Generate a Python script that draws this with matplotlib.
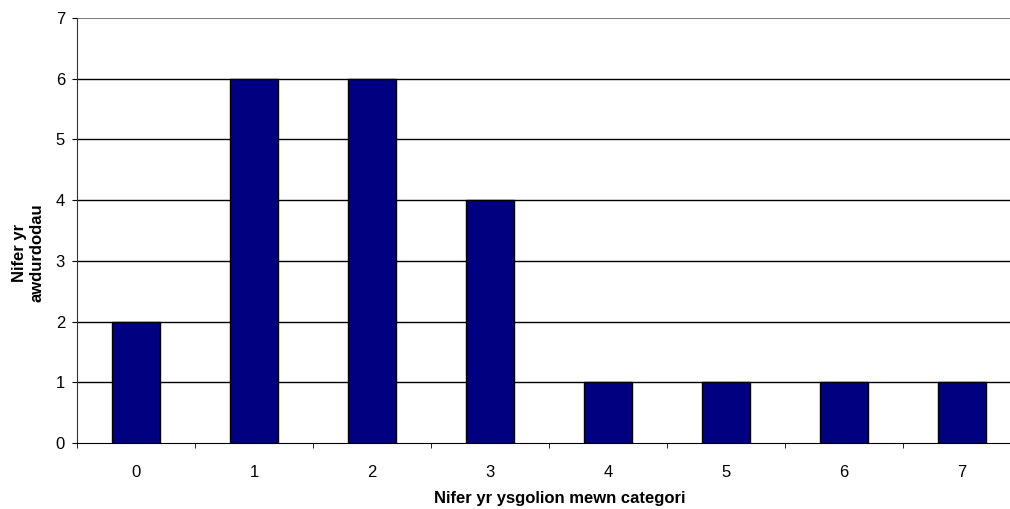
import matplotlib
matplotlib.use('Agg')
import matplotlib.pyplot as plt
import numpy as np

plt.rcParams['font.family'] = ['Liberation Sans', 'DejaVu Sans']

categories = ['0', '1', '2', '3', '4', '5', '6', '7']
counts = [2, 6, 6, 4, 1, 1, 1, 1]

W, H = 1010, 509
fig = plt.figure(figsize=(W / 100, H / 100), dpi=100)
# plot area runs past the right edge of the picture, like the original
ax = fig.add_axes([77 / W, 1 - 443 / H, 944 / W, 425 / H])

x = np.arange(len(categories))
ax.bar(x, counts, width=0.4, color='#000080', edgecolor='black', linewidth=1, zorder=3)

ax.set_xlim(-0.5, len(categories) - 0.5)
ax.set_ylim(0, 7)
ax.set_yticks(range(0, 8))

for v in range(1, 7):
    ax.axhline(v, color='black', linewidth=1, zorder=1)
ax.axhline(7, color='#808080', linewidth=1.5, zorder=1)

ax.set_xticks(x)
ax.set_xticklabels(categories, fontsize=12)
ax.tick_params(axis='x', length=0, pad=16)
ax.set_xticks(np.arange(-0.5, len(categories) + 0.5, 1), minor=True)
ax.tick_params(axis='x', which='minor', length=3.6, direction='out', color='black')
ax.tick_params(axis='y', length=3.6, direction='out', labelsize=12, pad=5, color='black')

for s in ['top', 'right']:
    ax.spines[s].set_visible(False)
ax.spines['left'].set_color('#333333')
ax.spines['bottom'].set_color('black')

fig.text(560 / W, 1 - 503 / H, 'Nifer yr ysgolion mewn categori', ha='center', va='baseline',
         fontsize=12, fontweight='bold')
fig.text(28 / W, 1 - 253 / H, 'Nifer yr\nawdurdodau', rotation=90, ha='center', va='center',
         fontsize=12, fontweight='bold', multialignment='center')

fig.savefig('out.png', dpi=100)
